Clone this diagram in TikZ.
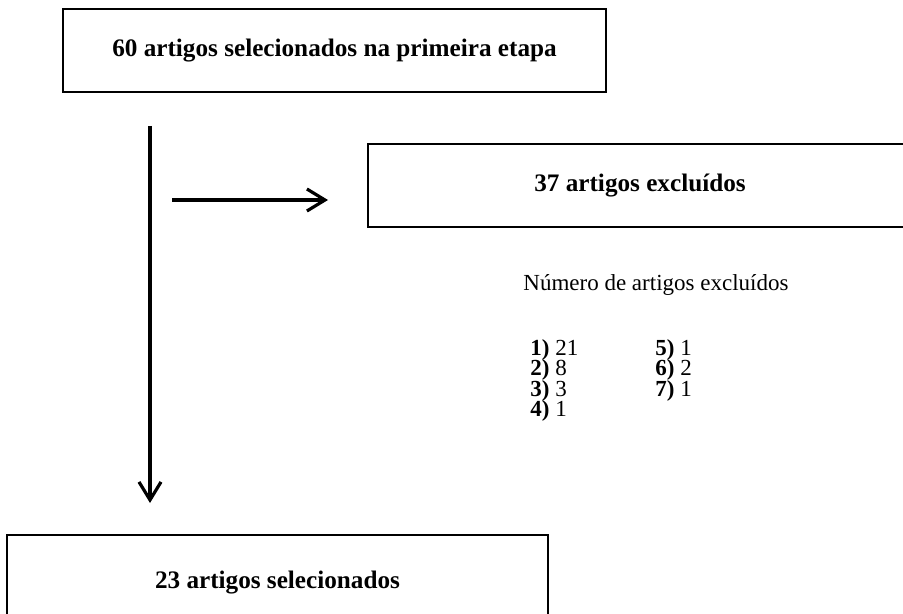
\documentclass[tikz,border=0pt]{standalone}
\usepackage{fontspec}
\setmainfont{Liberation Serif}
\usetikzlibrary{positioning,arrows.meta}

\begin{document}
\begin{tikzpicture}[
  x=0.5pt,y=-0.5pt,
  etapa/.style={draw,line width=1pt,align=center,inner sep=0pt,font=\fontsize{12.6}{15}\selectfont\bfseries},
  seta/.style={line width=1.6pt,-{Straight Barb[length=9pt,width=11pt,line width=1.6pt]}},
  item/.style={anchor=west,inner sep=0pt,text height=7.5pt,text depth=1.5pt,font=\fontsize{11.5}{13}\selectfont}
]
\useasboundingbox (0,0) rectangle (903,614);
\node[etapa,minimum width=271.5pt,minimum height=41.5pt] (E1) at (334.5,50.5) {60 artigos selecionados na primeira etapa};
\node[etapa,minimum width=272pt,minimum height=41.5pt] (EX) at (640,185.5) {37 artigos excluídos};
\node[etapa,minimum width=270.5pt,minimum height=48pt] (E2) at (277.5,583) {23 artigos selecionados};
\coordinate (V0) at (150,126);
\coordinate (V1) at (150,503);
\coordinate (H0) at (172,200);
\coordinate (H1) at (328,200);
\draw[seta] (V0) -- (V1);
\draw[seta] (H0) -- (H1);
\node[item] (N) at (523,285) {Número de artigos excluídos};
\node[item] (M1) at (530,349) {\textbf{1)} 21};
\node[item] (M2) at (530,369.5) {\textbf{2)} 8};
\node[item] (M3) at (530,390) {\textbf{3)} 3};
\node[item] (M4) at (530,410.5) {\textbf{4)} 1};
\node[item] (M5) at (655,349) {\textbf{5)} 1};
\node[item] (M6) at (655,369.5) {\textbf{6)} 2};
\node[item] (M7) at (655,390) {\textbf{7)} 1};
\end{tikzpicture}
\end{document}
